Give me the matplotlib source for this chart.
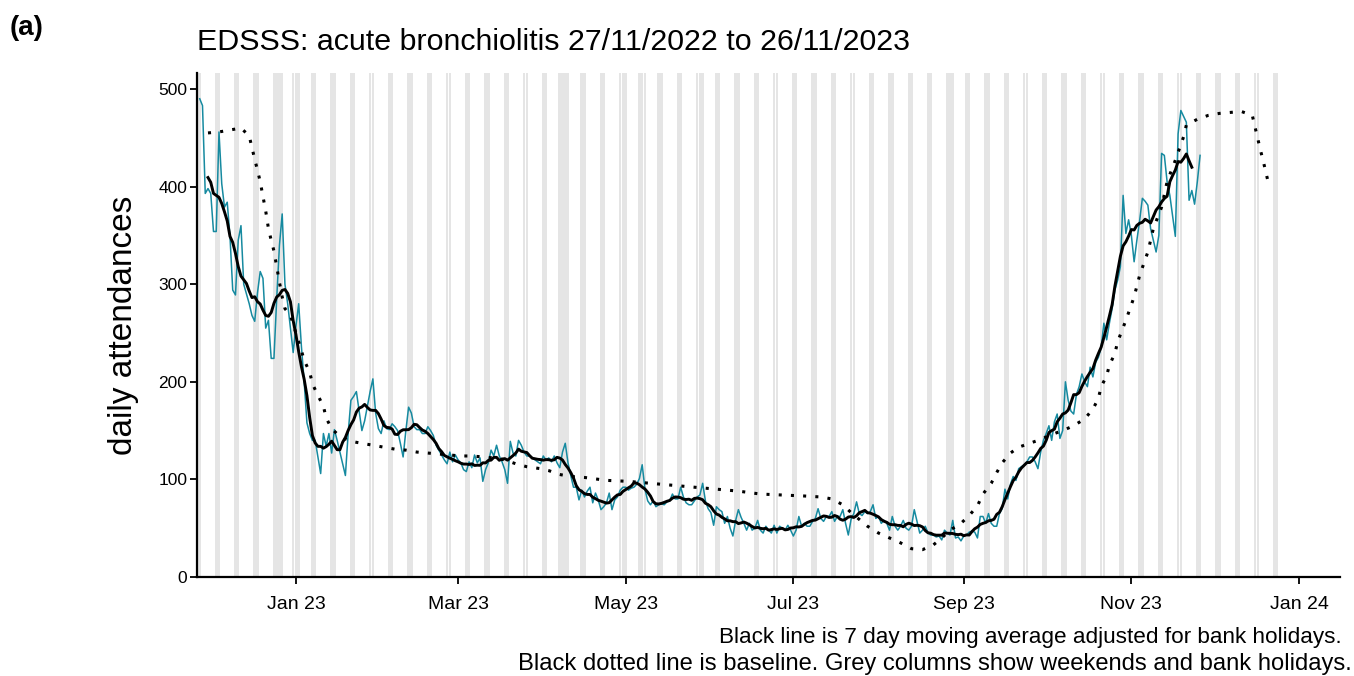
import numpy as np
import pandas as pd
import matplotlib
matplotlib.use('Agg')
import matplotlib.pyplot as plt

plt.rcParams['font.family'] = ['Liberation Sans', 'DejaVu Sans']

# daily ED attendances from 27/11/2022, one row per week (Sun..Sat)
start_date = '2022-11-27'
daily_counts = [
    490, 483, 393, 398, 393, 354, 354,
    456, 403, 379, 384, 349, 294, 289,
    345, 360, 300, 290, 280, 268, 262,
    291, 313, 306, 255, 263, 224, 224,
    285, 340, 372, 300, 280, 255, 230,
    257, 280, 236, 200, 158, 147, 140,
    140, 123, 106, 147, 134, 147, 127,
    151, 140, 128, 116, 104, 147, 181,
    185, 190, 170, 150, 160, 175, 190,
    203, 168, 152, 147, 160, 152, 151,
    157, 154, 150, 137, 123, 150, 174,
    168, 154, 151, 151, 147, 147, 154,
    150, 145, 135, 130, 125, 120, 116,
    128, 118, 125, 120, 117, 110, 108,
    118, 112, 125, 117, 122, 98, 110,
    117, 130, 124, 135, 124, 118, 110,
    96, 139, 127, 124, 140, 135, 128,
    124, 124, 122, 120, 118, 116, 124,
    120, 122, 118, 124, 117, 112, 128,
    137, 117, 104, 92, 92, 79, 89,
    82, 88, 92, 76, 86, 79, 69,
    72, 76, 86, 69, 79, 82, 89,
    92, 92, 89, 91, 92, 95, 101,
    115, 90, 78, 74, 78, 72, 74,
    75, 74, 77, 78, 85, 80, 80,
    92, 82, 76, 74, 74, 78, 82,
    84, 96, 78, 70, 66, 53, 72,
    69, 67, 55, 62, 50, 42, 58,
    69, 61, 55, 48, 55, 48, 50,
    58, 48, 45, 52, 48, 45, 53,
    45, 52, 50, 48, 53, 48, 42,
    48, 62, 52, 55, 52, 52, 57,
    60, 70, 60, 57, 62, 62, 67,
    57, 62, 62, 69, 55, 43, 59,
    65, 77, 65, 63, 67, 65, 67,
    74, 60, 62, 55, 58, 55, 48,
    62, 52, 48, 52, 58, 50, 48,
    52, 69, 57, 45, 48, 52, 45,
    43, 43, 41, 42, 38, 48, 45,
    43, 58, 40, 41, 37, 42, 43,
    46, 47, 46, 40, 62, 62, 55,
    65, 55, 52, 52, 65, 70, 90,
    80, 95, 103, 99, 111, 113, 115,
    118, 123, 123, 118, 111, 128, 140,
    147, 155, 140, 159, 167, 142, 150,
    200, 181, 170, 167, 187, 195, 208,
    200, 195, 215, 205, 220, 225, 235,
    260, 243, 260, 275, 294, 304, 318,
    391, 352, 366, 350, 323, 345, 365,
    388, 385, 381, 357, 345, 333, 350,
    434, 432, 405, 391, 370, 349, 454,
    478, 472, 466, 386, 396, 382, 405,
    432,
]

# baseline, days after start_date
baseline_day = [3, 7, 11, 15, 18, 19, 20, 21, 22, 23, 24, 25, 26, 27, 28, 29, 30, 31, 33, 35,
                37, 38, 40, 41, 43, 45, 46, 48, 51, 55, 59, 63, 67, 71, 75, 79, 83, 87, 91, 95,
                99, 103, 107, 111, 115, 119, 124, 127, 131, 135, 140, 148, 156, 164, 172, 180,
                188, 196, 204, 212, 220, 226, 230, 234, 237, 240, 243, 247, 251, 255, 259, 263,
                267, 270, 273, 277, 280, 283, 285, 288, 290, 292, 295, 298, 302, 306, 310, 314,
                318, 322, 325, 327, 328, 330, 331, 333, 334, 337, 340, 342, 345, 347, 350, 352,
                355, 358, 359, 363, 367, 371, 375, 379, 383, 384, 385, 386, 387, 388, 389]
baseline_value = [455, 456, 458, 460, 452, 440, 428, 417, 405, 390, 375, 357, 345, 334, 318, 302,
                  287, 275, 268, 250, 232, 222, 210, 198, 186, 175, 163, 152, 144, 139, 137, 135,
                  133, 131, 130, 128, 127, 126, 125, 124, 124, 123, 122, 120, 116, 113, 111, 109,
                  105, 103, 102, 99, 98, 96, 94, 92, 90, 88, 85, 84, 83, 82, 80, 74, 66, 59, 52,
                  45, 40, 35, 29, 28, 33, 40, 48, 55, 63, 73, 85, 96, 107, 117, 127, 133, 137,
                  141, 146, 150, 155, 162, 172, 183, 195, 206, 217, 229, 241, 263, 287, 309, 333,
                  357, 379, 405, 427, 451, 463, 469, 473, 475, 476, 477, 473, 461, 449, 437, 426,
                  414, 402]

bank_holidays = ['2022-12-26', '2022-12-27', '2023-01-02', '2023-04-07', '2023-04-10',
                 '2023-05-01', '2023-05-08', '2023-05-29', '2023-08-28']
shade_end = '2023-12-24'

start = pd.Timestamp(start_date)
dates = pd.date_range(start, periods=len(daily_counts), freq='D')
counts = pd.Series(daily_counts, index=dates)
moving_avg = counts.rolling(7, center=True).mean()
base_dates = start + pd.to_timedelta(baseline_day, unit='D')

days = pd.date_range(start, shade_end, freq='D')
grey_days = days[(days.dayofweek >= 5) | days.isin(pd.to_datetime(bank_holidays))]

W, H = 1354, 676
fig = plt.figure(figsize=(W / 100, H / 100), dpi=100)
ax = fig.add_axes([197 / W, 1 - 577 / H, (1340 - 197) / W, (577 - 73) / H])

ax.bar(grey_days, 600, width=0.92, bottom=0, color='#e5e5e5', zorder=0)
ax.plot(dates, counts.values, color='#168aa0', lw=1.1, zorder=2)
ax.plot(dates, moving_avg.values, color='black', lw=2.1, zorder=3)
ax.plot(base_dates, baseline_value, color='black', lw=2.2, linestyle=(0, (1, 3)), zorder=3)

ax.set_xlim(pd.Timestamp('2022-11-26'), pd.Timestamp('2024-01-15 22:00'))
ax.set_ylim(0, 516.4)

xt = pd.to_datetime(['2023-01-01', '2023-03-01', '2023-05-01', '2023-07-01',
                     '2023-09-01', '2023-11-01', '2024-01-01'])
ax.set_xticks(xt)
ax.set_xticklabels([d.strftime('%b %y') for d in xt])
ax.set_yticks([0, 100, 200, 300, 400, 500])

for side in ['top', 'right']:
    ax.spines[side].set_visible(False)
for side in ['left', 'bottom']:
    ax.spines[side].set_linewidth(1.6)
    ax.spines[side].set_color('black')
ax.tick_params(length=5, width=1.3, colors='black')
ax.tick_params(axis='y', labelsize=12.5, pad=2)
ax.tick_params(axis='x', labelsize=14, pad=9)

fig.text(10 / W, 1 - 28 / H, '(a)', fontsize=20, fontweight='bold', va='center', ha='left')
fig.text(197 / W, 1 - 42 / H, 'EDSSS: acute bronchiolitis 27/11/2022 to 26/11/2023',
         fontsize=21.9, va='center', ha='left')
fig.text(124 / W, 1 - 325 / H, 'daily attendances', fontsize=24, rotation=90,
         va='center', ha='center')
fig.text(1342 / W, 1 - 638 / H, 'Black line is 7 day moving average adjusted for bank holidays.',
         fontsize=16.2, ha='right', va='center')
fig.text(1352 / W, 1 - 664 / H,
         'Black dotted line is baseline. Grey columns show weekends and bank holidays.',
         fontsize=17.1, ha='right', va='center')

fig.savefig('out.png', dpi=100)
